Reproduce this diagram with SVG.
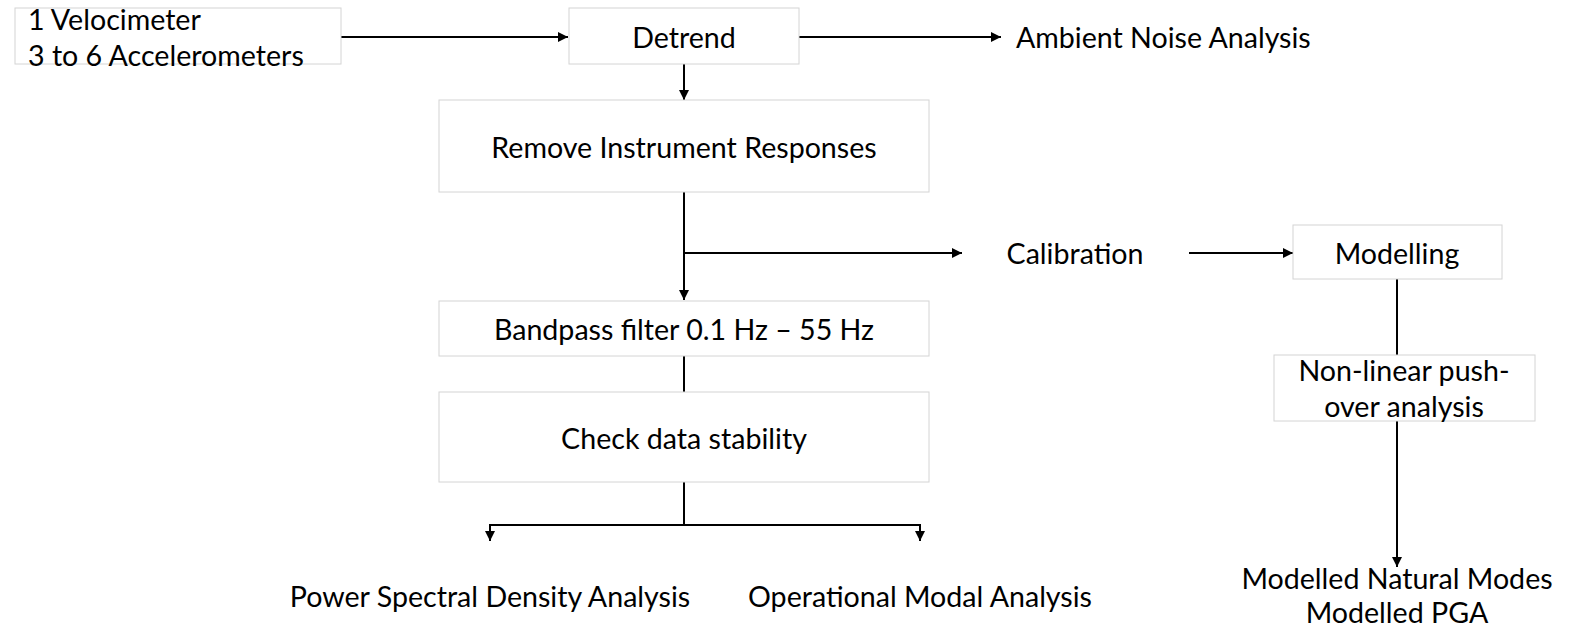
<svg xmlns="http://www.w3.org/2000/svg" width="1572" height="631" viewBox="0 0 1572 631">
<style>
.box{fill:#fff;stroke:#d4d4d4;stroke-width:1}
.t{font-family:Lato,"Liberation Sans",sans-serif;font-size:28.6px;fill:#000;dominant-baseline:central}
.m{text-anchor:middle}
.c{stroke:#000;stroke-width:2;fill:none}
</style>
<defs>
<marker id="ah" viewBox="0 0 10 10" refX="10" refY="5" markerWidth="5" markerHeight="5" orient="auto" markerUnits="strokeWidth">
<path d="M0,0 L10,5 L0,10 z" fill="#000"/>
</marker>
</defs>
<rect width="1572" height="631" fill="#fff"/>
<g id="connectors">
<line class="c" x1="341" y1="37" x2="568" y2="37" marker-end="url(#ah)"/>
<line class="c" x1="799" y1="37" x2="1001" y2="37" marker-end="url(#ah)"/>
<line class="c" x1="684" y1="64" x2="684" y2="100" marker-end="url(#ah)"/>
<line class="c" x1="684" y1="192" x2="684" y2="300" marker-end="url(#ah)"/>
<line class="c" x1="684" y1="253" x2="962" y2="253" marker-end="url(#ah)"/>
<line class="c" x1="1189" y1="253" x2="1293" y2="253" marker-end="url(#ah)"/>
<line class="c" x1="1397" y1="279" x2="1397" y2="355"/>
<line class="c" x1="1397" y1="421" x2="1397" y2="567" marker-end="url(#ah)"/>
<line class="c" x1="684" y1="356" x2="684" y2="392"/>
<polyline class="c" points="684,482 684,525 490,525 490,541" marker-end="url(#ah)"/>
<polyline class="c" points="684,525 920,525 920,541" marker-end="url(#ah)"/>
</g>
<g id="sensors">
<rect class="box" x="15" y="8" width="326" height="56"/>
<text class="t" x="28" y="19">1 Velocimeter</text>
<text class="t" x="28" y="55">3 to 6 Accelerometers</text>
</g>
<g id="detrend">
<rect class="box" x="569" y="8" width="230" height="56"/>
<text class="t m" x="684" y="37">Detrend</text>
</g>
<g id="ambient">
<text class="t" x="1016" y="37">Ambient Noise Analysis</text>
</g>
<g id="remove">
<rect class="box" x="439" y="100" width="490" height="92"/>
<text class="t m" x="684" y="147">Remove Instrument Responses</text>
</g>
<g id="calibration">
<text class="t m" x="1075" y="253">Calibration</text>
</g>
<g id="modelling">
<rect class="box" x="1293" y="225" width="209" height="54"/>
<text class="t m" x="1397" y="253">Modelling</text>
</g>
<g id="pushover">
<rect class="box" x="1274" y="355" width="261" height="66"/>
<text class="t m" x="1404" y="370">Non-linear push-</text>
<text class="t m" x="1404" y="406">over analysis</text>
</g>
<g id="modelled">
<text class="t m" x="1397" y="578">Modelled Natural Modes</text>
<text class="t m" x="1397" y="612">Modelled PGA</text>
</g>
<g id="bandpass">
<rect class="box" x="439" y="301" width="490" height="55"/>
<text class="t m" x="684" y="329">Bandpass filter 0.1 Hz – 55 Hz</text>
</g>
<g id="stability">
<rect class="box" x="439" y="392" width="490" height="90"/>
<text class="t m" x="684" y="438">Check data stability</text>
</g>
<g id="psd">
<text class="t m" x="490" y="596">Power Spectral Density Analysis</text>
</g>
<g id="oma">
<text class="t m" x="920" y="596">Operational Modal Analysis</text>
</g>
</svg>
